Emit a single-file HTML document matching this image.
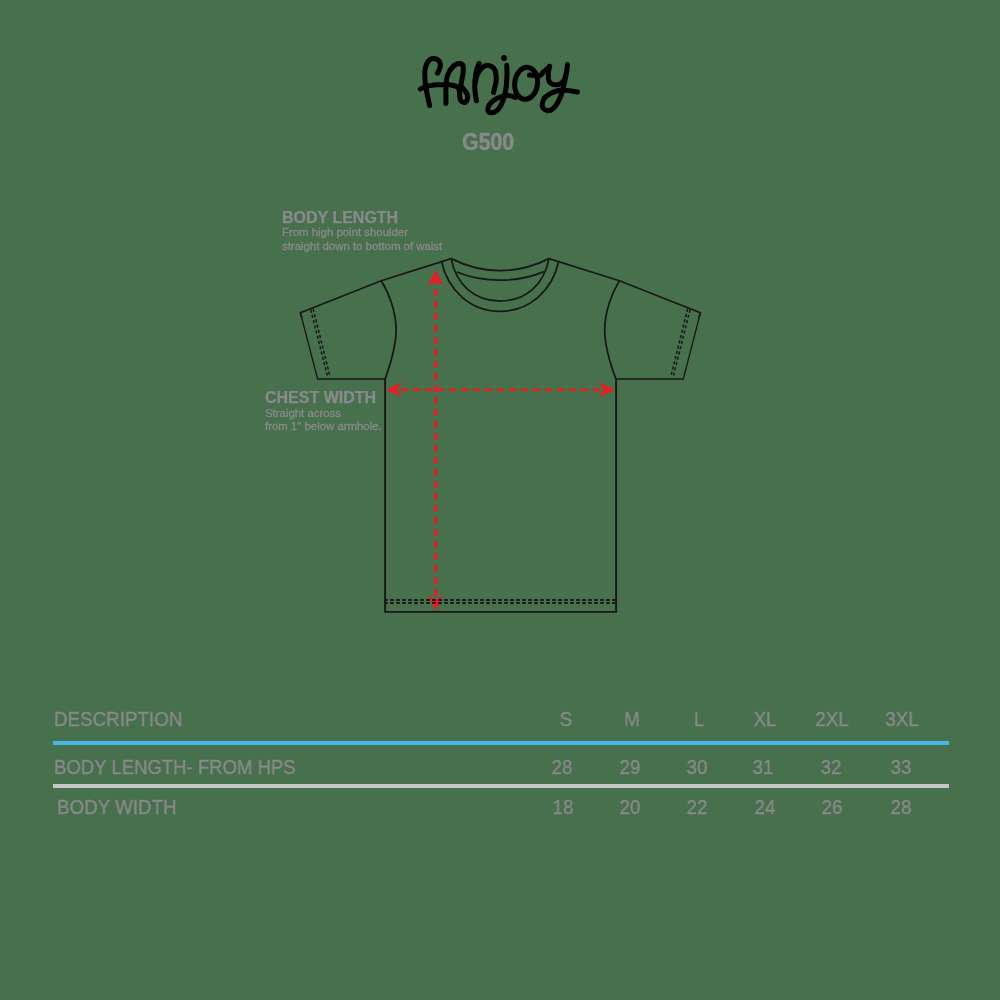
<!DOCTYPE html>
<html>
<head>
<meta charset="utf-8">
<title>G500 Size Chart</title>
<style>
html,body{margin:0;padding:0;}
body{width:1000px;height:1000px;background:#47704c;position:relative;overflow:hidden;font-family:"Liberation Sans",sans-serif;color:#8a8a8c;}
svg{position:absolute;left:0;top:0;}
.t{position:absolute;white-space:nowrap;line-height:1;transform-origin:0 50%;will-change:transform;}
.b{font-weight:bold;-webkit-text-stroke:0.25px #8a8a8c;}
.h{font-size:16px;}
.s{font-size:11.4px;-webkit-text-stroke:0.3px #8a8a8c;}
.c{font-size:20.2px;transform:scaleX(0.93);-webkit-text-stroke:0.35px #8a8a8c;}
.n{-webkit-text-stroke:0.35px #8a8a8c;font-size:20.2px;text-align:center;width:80px;margin-left:-40px;transform:scaleX(0.93);transform-origin:50% 50%;}
.ln{position:absolute;left:53px;width:896px;height:4px;}
</style>
</head>
<body>
<svg width="1000" height="1000" viewBox="0 0 1000 1000">
  <!-- logo -->
  <g fill="none" stroke="#000" stroke-width="5" stroke-linecap="round" stroke-linejoin="round">
    <path d="M437.5 73.1 C438.5 71.5 439.5 70 440.2 67 C441.2 62.5 438.5 58.4 433.6 58.4 C431 58.4 429 59.8 427.9 61.7 C425.5 65.5 424.7 70 424.7 74 C424.7 80 425.5 86 426.7 92 C427.5 96 428.5 100 429.6 105.5"/>
    <path d="M445.9 103.4 L445.9 92 C445.9 86 446.2 82 446.5 80 C447 76.5 447.6 75 448.3 73.5 C449.3 71 450.4 69.5 451.7 68 C454 65 457 63.3 459.5 63.5 C462 63.7 463.4 65.5 463.4 68 C463.5 72 462.5 77 461.8 80 C461.3 82.5 461 84 460.8 85 C462 88 466 91 467.5 95 C468.5 99 466.5 102.5 463.9 102.5 C461.5 102.5 459.9 100 459.7 96.8 C459.5 93 460 90 458.2 87.5 C456 85.5 452 85.2 449 84.6 C446 84.4 440 84.5 436 84.8 C432 85.2 429.5 85.7 427 86.3 C424.5 87 422 88 420.4 89"/>
    <path d="M479.1 63.5 C477.5 66.5 476.3 70 475.8 74 C475 79 474.7 83 474.7 86 C474.7 91 475.5 95 475.9 98 L476.4 100.7"/>
    <path d="M475.6 82 C476 76.5 478.5 71 482 67.8 C484.5 65.6 487 65.2 488.7 65.4 C493 66 495.5 69.5 495.9 74 C496.3 77 496.3 79 496.2 80 C496 83 495.5 85 495.1 86 C494.5 89 494 91 493.6 92.5"/>
    <path d="M506.7 65.3 C507 70 507.1 75 506.7 80 C506.5 85 506 89 505.3 92 C504 99 500 112.8 491.3 112.8 C487.5 112.8 486.8 108.5 489.5 104.5 C492.5 100.5 498 97 505 95.6 C509 95 512.5 95.8 515.5 97.5"/>
    <ellipse cx="526.1" cy="83.3" rx="11.4" ry="16" transform="rotate(7 526.1 83.3)"/>
    <path d="M529.5 75.1 C533 75.4 537 75.9 539.7 75.7 C541.5 75 542.5 73.5 543 72.4 C544.5 71 545.5 70.3 546.6 69.4 C548 68.3 549 67.3 549.6 66.4"/>
    <path d="M549.6 66.4 C548.3 70.5 548 75.5 548.4 79 C549 83 552 84.8 556.2 84.8 C560.5 84.8 563.2 82 564.6 79 C566 75.5 567 70 567.5 64.6 C567 72 565 80 564 85 C563 90 562 93 560.4 97 C558.5 101.5 556 106 552.6 109 C550.5 110.7 548.5 111 546.9 110.5 C543 109.5 541.5 106.5 542.4 103 C543 100.8 543.5 99.5 544.1 98.5 C545.5 96.5 547 95.5 549 94.3 C551 93 553 92.3 555 91.6 C557 90.9 559 90.3 561 90.1 C563 89.9 565 90.1 567 90.4 C569 90.7 571 91 573 91.3 L577.5 91.9"/>
  </g>
  <circle cx="504" cy="58" r="2.9" fill="#000"/>

  <!-- shirt -->
  <g fill="none" stroke="#1a1718" stroke-width="1.75" stroke-linejoin="miter">
    <path d="M451.2 258.6 L381.2 280.8 L300.4 312.8 L302 318" stroke-width="1.65"/>
    <path d="M300.6 313.5 L317.6 379 H326" stroke-width="1.3"/>
    <path d="M549 258.6 L619.4 280.8 L700.4 312.8 L698.8 318" stroke-width="1.65"/>
    <path d="M700.2 313.5 L683.3 379 H675" stroke-width="1.3"/>
    <path d="M325.5 379 H385.1 M675.5 379 H615.9" stroke-width="1.7"/>
    <path d="M381.2 280.8 C389 293 396.1 312 396.1 330 C396.1 345 390.5 364 385.1 379"/>
    <path d="M619.4 280.8 C611.8 293 604.7 312 604.7 330 C604.7 345 610.3 364 615.9 379"/>
    <path d="M385.1 378.2 L385.1 611.9 L616.1 611.9 L616.1 378.2" stroke-width="1.9"/>
    <path d="M441.6 261.8 C448 290 470 311.4 500.1 311.4 C530.2 311.4 552.2 290 558.6 261.8"/>
    <path d="M451.2 258.6 C456 284 474 301 500.1 301 C526.2 301 544.2 284 549 258.6"/>
    <path d="M451.2 258.6 C466 266 482 270.6 500.1 270.6 C518.2 270.6 534.2 266 549 258.6"/>
    <path d="M456.8 272 C470 277.5 484 280.2 500.1 280.2 C516.2 280.2 530.2 277.5 543.8 271.6"/>
  </g>
  <g fill="none" stroke="#1a1718" stroke-width="1.6">
    <path d="M310.7 309.6 L327.5 376.4" stroke-dasharray="3.2 2.2" stroke-width="1.5"/>
    <path d="M313.1 308.8 L329.8 375.6" stroke-dasharray="3.2 2.2" stroke-width="1.5"/>
    <path d="M690.1 309.6 L673.3 376.4" stroke-dasharray="3.2 2.2" stroke-width="1.5"/>
    <path d="M687.7 308.8 L671 375.6" stroke-dasharray="3.2 2.2" stroke-width="1.5"/>
  </g>
  <!-- arrows -->
  <g fill="#ed1c24" stroke="none">
    <path d="M435.5 269.9 L443.1 285.3 L435.5 281.6 L427.9 285.8 Z"/>
    <path d="M435.6 611 L428.2 595.2 L435.6 599.6 L442.9 595.2 Z"/>
    <path d="M386 389.8 L401.8 382.2 L397 389.8 L401.8 396.9 Z"/>
    <path d="M615 389.8 L599 382.2 L603.8 389.8 L599.2 396.9 Z"/>
    <rect x="434" y="281" width="3" height="3"/>
  </g>
  <g stroke="#ed1c24" fill="none" stroke-width="3">
    <path d="M435.5 289 V597" stroke-dasharray="7 5"/>
    <path d="M401 389.6 H601" stroke-dasharray="7 5" stroke-width="2.8"/>
  </g>
  <g fill="none" stroke="#1a1718" stroke-width="1.9">
    <path d="M384.2 599.95 H617" stroke-dasharray="3.6 2.4"/>
    <path d="M384.2 603.05 H617" stroke-dasharray="3.6 2.4"/>
  </g>
</svg>

<div class="t b" style="left:461.6px;top:130.9px;font-size:23px;transform:scaleX(0.925);-webkit-text-stroke:0.5px #8a8a8c;">G500</div>

<div class="t b h" style="left:281.8px;top:210px;">BODY LENGTH</div>
<div class="t s" style="left:281.6px;top:227.3px;">From high point shoulder</div>
<div class="t s" style="left:281.6px;top:241px;">straight down to bottom of waist</div>

<div class="t b h" style="left:264.5px;top:390px;">CHEST WIDTH</div>
<div class="t s" style="left:264.5px;top:407.5px;">Straight across</div>
<div class="t s" style="left:264.5px;top:421px;">from 1" below armhole.</div>

<div class="t c" style="left:53.8px;top:708.8px;">DESCRIPTION</div>
<div class="t c" style="left:53.8px;top:756.6px;transform:scaleX(0.918);">BODY LENGTH- FROM HPS</div>
<div class="t c" style="left:56.6px;top:796.6px;">BODY WIDTH</div>

<div class="ln" style="top:741px;background:#47b8ea;"></div>
<div class="ln" style="top:784px;background:#c6c6c6;"></div>

<div class="t n" style="left:565.5px;top:708.8px;">S</div>
<div class="t n" style="left:631.5px;top:708.8px;">M</div>
<div class="t n" style="left:699px;top:708.8px;">L</div>
<div class="t n" style="left:765px;top:708.8px;">XL</div>
<div class="t n" style="left:832.4px;top:708.8px;">2XL</div>
<div class="t n" style="left:902.3px;top:708.8px;">3XL</div>

<div class="t n" style="left:562.2px;top:756.6px;">28</div>
<div class="t n" style="left:629.7px;top:756.6px;">29</div>
<div class="t n" style="left:696.8px;top:756.6px;">30</div>
<div class="t n" style="left:763.2px;top:756.6px;">31</div>
<div class="t n" style="left:831.1px;top:756.6px;">32</div>
<div class="t n" style="left:900.6px;top:756.6px;">33</div>

<div class="t n" style="left:563.2px;top:796.6px;">18</div>
<div class="t n" style="left:630.2px;top:796.6px;">20</div>
<div class="t n" style="left:696.8px;top:796.6px;">22</div>
<div class="t n" style="left:764.6px;top:796.6px;">24</div>
<div class="t n" style="left:831.6px;top:796.6px;">26</div>
<div class="t n" style="left:901px;top:796.6px;">28</div>
</body>
</html>
